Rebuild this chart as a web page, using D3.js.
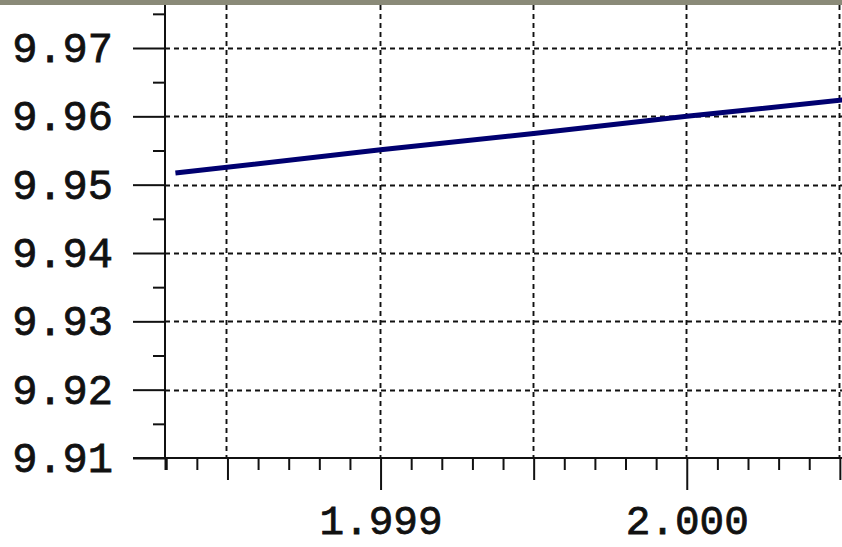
<!DOCTYPE html>
<html>
<head>
<meta charset="utf-8">
<script src="https://cdn.jsdelivr.net/npm/d3@7"></script>
<style>
  html, body { margin: 0; padding: 0; background: #ffffff; }
  svg { display: block; }
</style>
</head>
<body>
<svg id="chart" width="842" height="547"></svg>
<script>
// ---- data ----
const xValues = [1.99833, 1.999, 1.9995, 2.000, 2.00051];
const yValues = [9.9517, 9.9551, 9.9575, 9.9600, 9.9624];
const yMajorTicks = [9.91, 9.92, 9.93, 9.94, 9.95, 9.96, 9.97];
const yMinorTicks = [9.915, 9.925, 9.935, 9.945, 9.955, 9.965, 9.975];
const yGridTicks = [9.92, 9.93, 9.94, 9.95, 9.96, 9.97];
const xMajorTicks = [1.999, 2.000];
const xMediumTicks = [1.9985, 1.9995, 2.0005];
const xMinorTicks = [1.9983, 1.9984, 1.9986, 1.9987, 1.9988, 1.9989, 1.9991, 1.9992, 1.9993, 1.9994,
                     1.9996, 1.9997, 1.9998, 1.9999, 2.0001, 2.0002, 2.0003, 2.0004];
const xGridTicks = [1.9985, 1.999, 1.9995, 2.000, 2.0005];
const xDomain = [1.998296, 2.000507];
const yDomain = [9.91, 9.97];

// ---- layout ----
const W = 842, H = 547;
const padL = 165, padR = 842, axisY = 458, bandH = 5;
const svg = d3.select("#chart");

const x = d3.scaleLinear().domain(xDomain).range([padL, padR]);
const y = d3.scaleLinear().domain(yDomain).range([axisY, 48]);

// top band
svg.append("rect").attr("x", 0).attr("y", 0).attr("width", W).attr("height", bandH)
  .attr("fill", "#8a8a78");

// grid
const grid = svg.append("g").attr("stroke", "#111").attr("stroke-width", 1.9)
  .attr("stroke-dasharray", "5,4").attr("fill", "none");
grid.selectAll("line.h").data(yGridTicks).join("line").attr("class", "h")
  .attr("x1", padL).attr("x2", padR)
  .attr("y1", d => Math.round(y(d)) + 0.5).attr("y2", d => Math.round(y(d)) + 0.5);
grid.selectAll("line.v").data(xGridTicks).join("line").attr("class", "v")
  .attr("y1", bandH).attr("y2", axisY)
  .attr("x1", d => Math.round(x(d)) - 0.5).attr("x2", d => Math.round(x(d)) - 0.5);

// data line
svg.append("defs").append("clipPath").attr("id", "clip")
  .append("rect").attr("x", padL).attr("y", bandH).attr("width", padR - padL).attr("height", axisY - bandH);
const pts = xValues.map((v, i) => [v, yValues[i]]);
svg.append("path").datum(pts)
  .attr("clip-path", "url(#clip)")
  .attr("fill", "none").attr("stroke", "#000070").attr("stroke-width", 5)
  .attr("d", d3.line().x(d => x(d[0])).y(d => y(d[1])));

// axes
const fontFamily = "'Liberation Mono', 'Courier New', monospace";
function styleAxis(g) {
  g.select(".domain").remove();
  g.selectAll(".tick line").attr("stroke", "#111").attr("stroke-width", 2);
  g.selectAll(".tick text").attr("fill", "#111").attr("font-family", fontFamily)
    .attr("font-size", 42).attr("font-weight", "normal")
    .attr("stroke", "#111").attr("stroke-width", 0.8);
}

svg.append("g").attr("transform", `translate(${padL},0)`)
  .call(d3.axisLeft(y).tickValues(yMinorTicks).tickSize(12).tickFormat(""))
  .call(styleAxis);
svg.append("g").attr("transform", `translate(${padL},0)`)
  .call(d3.axisLeft(y).tickValues(yMajorTicks).tickSize(32).tickPadding(20).tickFormat(d3.format(".2f")))
  .call(styleAxis);

svg.append("g").attr("transform", `translate(0,${axisY})`)
  .call(d3.axisBottom(x).tickValues(xMinorTicks).tickSize(12).tickFormat(""))
  .call(styleAxis);
svg.append("g").attr("transform", `translate(0,${axisY})`)
  .call(d3.axisBottom(x).tickValues(xMediumTicks).tickSize(22).tickFormat(""))
  .call(styleAxis);
svg.append("g").attr("transform", `translate(0,${axisY})`)
  .call(d3.axisBottom(x).tickValues(xMajorTicks).tickSize(32).tickFormat(d3.format(".3f")))
  .call(styleAxis)
  .call(g => g.selectAll(".tick text").attr("y", 76).attr("dy", null).attr("font-size", 41));
svg.append("g").attr("transform", `translate(0,${axisY})`)
  .call(d3.axisBottom(x).tickValues([xDomain[0]]).tickSize(12).tickFormat(""))
  .call(styleAxis);

// axis lines
svg.append("line").attr("x1", padL).attr("x2", padL).attr("y1", bandH).attr("y2", axisY)
  .attr("stroke", "#111").attr("stroke-width", 2);
svg.append("line").attr("x1", padL - 32).attr("x2", padR).attr("y1", axisY).attr("y2", axisY)
  .attr("stroke", "#111").attr("stroke-width", 2);
</script>
</body>
</html>
